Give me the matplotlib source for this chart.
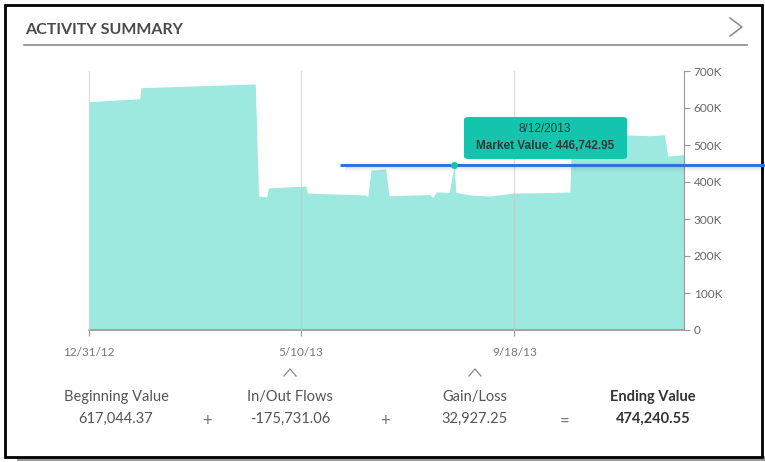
import matplotlib
matplotlib.use("Agg")
import matplotlib.pyplot as plt
import matplotlib.transforms as mtransforms
from matplotlib.patches import Rectangle, FancyBboxPatch
import numpy as np
import pandas as pd

# market value series
dates = ["2012-12-31", "2013-01-31", "2013-02-01", "2013-03-09", "2013-04-12",
         "2013-04-14", "2013-04-19", "2013-04-20", "2013-05-13", "2013-05-14",
         "2013-06-03", "2013-06-18", "2013-06-20", "2013-06-22", "2013-07-01",
         "2013-07-03", "2013-07-28", "2013-07-30", "2013-08-01", "2013-08-09",
         "2013-08-12", "2013-08-13", "2013-08-22", "2013-09-03", "2013-09-17",
         "2013-10-04", "2013-10-22", "2013-10-23", "2013-11-22", "2013-12-10",
         "2013-12-19", "2013-12-21", "2013-12-31"]
values = [617044, 625000, 655000, 660000, 665000,
          362000, 360000, 384000, 389000, 370000,
          367000, 365000, 360000, 432000, 435000,
          363000, 366000, 358000, 373000, 372000,
          446742.95, 372000, 365000, 362000, 370000,
          371000, 373000, 527000, 528000, 525000,
          528000, 470000, 474240.55]

xtick_dates = ["2012-12-31", "2013-05-10", "2013-09-18"]
xtick_labels = ["12/31/12", "5/10/13", "9/18/13"]
yticks = [0, 100000, 200000, 300000, 400000, 500000, 600000, 700000]
ytick_labels = ["0", "100K", "200K", "300K", "400K", "500K", "600K", "700K"]

tip_date = "2013-08-12"
tip_value = 446742.95

summary_labels = ["Beginning Value", "In/Out Flows", "Gain/Loss", "Ending Value"]
summary_values = ["617,044.37", "-175,731.06", "32,927.25", "474,240.55"]
operators = ["+", "+", "="]

fill_col = "#9de8df"
grid_col = "#c8c8c8"
text_col = "#555555"

W, H = 765, 462
fig = plt.figure(figsize=(W / 100, H / 100), dpi=100)

def fx(px):
    return px / W

def fy(py):
    return 1 - py / H

# outer frame with shadow
fig.patches.append(Rectangle((fx(17), fy(461)), fx(748), 5 / H, transform=fig.transFigure,
                             facecolor="#9a9a9a", edgecolor="none", zorder=0))
fig.patches.append(Rectangle((fx(5), fy(457)), fx(757), 452 / H, transform=fig.transFigure,
                             facecolor="white", edgecolor="black", linewidth=2, zorder=1))

ax = fig.add_axes([fx(89), fy(330), fx(684 - 89), (330 - 71) / H])
ax.set_zorder(3)
ax.patch.set_alpha(0)

x = pd.to_datetime(dates)
ax.fill_between(x, values, 0, color=fill_col, linewidth=0, zorder=2)

xt = pd.to_datetime(xtick_dates)
ax.set_xlim(pd.Timestamp("2012-12-31"), pd.Timestamp("2013-12-31"))
ax.set_ylim(0, 700000)
for d in xt:
    ax.axvline(d, color=grid_col, linewidth=0.9, alpha=0.6, zorder=3, clip_on=False)

ax.set_xticks(xt)
ax.set_xticklabels(xtick_labels, fontsize=8.5, color="#777777", family="Lato")
ax.yaxis.tick_right()
ax.set_yticks(yticks)
ax.set_yticklabels(ytick_labels, fontsize=8.5, color="#666666", family="Lato")
ax.tick_params(axis="x", length=4, color="#999999", pad=8)
ax.tick_params(axis="y", length=4, color="#999999", pad=3)

for s in ["top", "left"]:
    ax.spines[s].set_visible(False)
ax.spines["bottom"].set_color("#999999")
ax.spines["right"].set_color("#999999")
ax.spines["bottom"].set_linewidth(1.2)

# crosshair line with a soft shadow, running past the axes to the frame edge
blend = mtransforms.blended_transform_factory(fig.transFigure, ax.transData)
for off, lw, a in [(6000, 7, 0.025), (5000, 4, 0.035), (3500, 2.5, 0.04)]:
    ax.plot([fx(345), fx(765)], [tip_value - off, tip_value - off], transform=blend,
            color="#000000", alpha=a, linewidth=lw, clip_on=False, zorder=4,
            solid_capstyle="butt")
ax.plot([fx(340), fx(765)], [tip_value, tip_value], transform=blend,
        color="#2f74d6", linewidth=2.2, clip_on=False, zorder=5, solid_capstyle="butt")
ax.plot([pd.Timestamp(tip_date)], [tip_value], "o", color="#1bbfa8", markersize=4, zorder=6)

# tooltip
tip = FancyBboxPatch((fx(464), fy(159)), fx(163), 42 / H, transform=fig.transFigure,
                     boxstyle="round,pad=0,rounding_size=0.006", facecolor="#15c4ac",
                     edgecolor="none", zorder=7)
fig.patches.append(tip)
tdate = pd.Timestamp(tip_date)
fig.text(fx(545), fy(129), f"{tdate.month}/{tdate.day}/{tdate.year}", ha="center", va="center",
         fontsize=8.5, color="#2b3a38", family="Liberation Sans", zorder=8)
fig.text(fx(545), fy(146), f"Market Value: {tip_value:,.2f}", ha="center", va="center",
         fontsize=8.5, color="#2b3a38", family="Liberation Sans", weight="bold", zorder=8)

# header
fig.text(fx(25), fy(30), "ACTIVITY SUMMARY", ha="left", va="center", fontsize=11.5,
         color="#4a4a4a", family="Lato", weight="bold")
fig.lines.append(plt.Line2D([fx(24), fx(747)], [fy(45), fy(45)], transform=fig.transFigure,
                            color="#8a8a8a", linewidth=1.2))
fig.lines.append(plt.Line2D([fx(730), fx(742), fx(730)], [fy(18), fy(27), fy(36)],
                            transform=fig.transFigure, color="#888888", linewidth=1.1))

# summary row
cols = [116, 290, 475, 653]
op_x = [207, 385, 565]
for i, (lab, val) in enumerate(zip(summary_labels, summary_values)):
    bold = i == len(summary_labels) - 1
    fig.text(fx(cols[i]), fy(397), lab, ha="center", va="center", fontsize=10.5,
             color="#333333" if bold else text_col, family="Lato",
             weight="bold" if bold else "normal")
    fig.text(fx(cols[i]), fy(419), val, ha="center", va="center", fontsize=10.5,
             color="#333333" if bold else text_col, family="Lato",
             weight="bold" if bold else "normal")
for ox, op in zip(op_x, operators):
    fig.text(fx(ox), fy(421), op, ha="center", va="center", fontsize=12, color="#777777",
             family="Lato")
for cx in cols[1:3]:
    fig.lines.append(plt.Line2D([fx(cx - 6), fx(cx), fx(cx + 6)], [fy(376), fy(369), fy(376)],
                                transform=fig.transFigure, color="#888888", linewidth=0.9))

fig.savefig("out.png", dpi=100)
